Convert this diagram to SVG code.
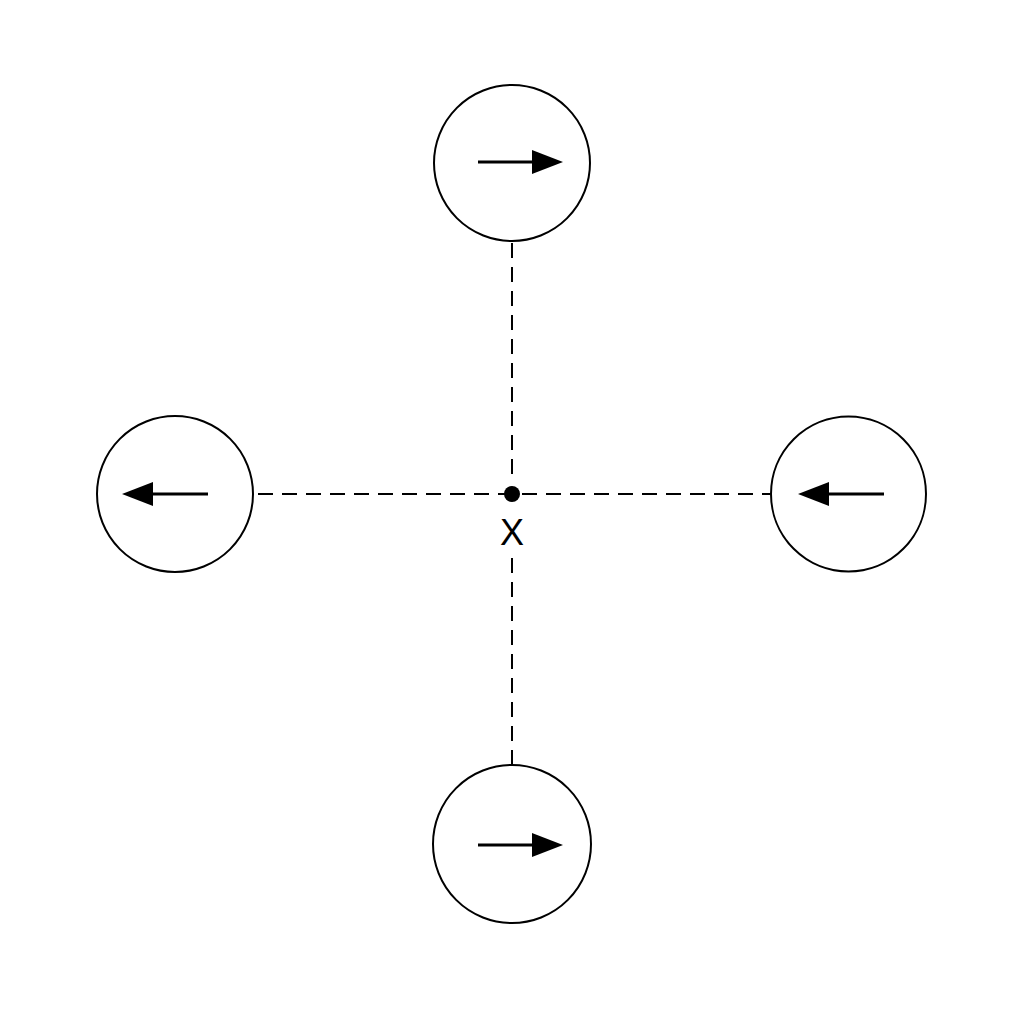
<svg xmlns="http://www.w3.org/2000/svg" width="1024" height="1024" viewBox="0 0 1024 1024">
<style>
.node{fill:#fff;stroke:#000;stroke-width:2}
.dash{stroke:#000;stroke-width:2;stroke-dasharray:15 9;fill:none}
.arr{stroke:#000;stroke-width:3;fill:none;marker-end:url(#ah)}
.lbl{font-family:"Liberation Sans",Arial,sans-serif;font-size:36px;fill:#000;text-anchor:middle}
</style>
<defs>
<marker id="ah" viewBox="0 0 31 24" markerWidth="31" markerHeight="24" refX="8" refY="12" orient="auto" markerUnits="userSpaceOnUse">
<path d="M0,0 L31,12 L0,24 z" fill="#000"/>
</marker>
</defs>
<rect width="1024" height="1024" fill="#fff"/>
<g id="connectors">
<line class="dash" x1="258" y1="494" x2="770" y2="494"/>
<line class="dash" x1="512" y1="243" x2="512" y2="480"/>
<line class="dash" x1="512" y1="765" x2="512" y2="555" />
</g>
<g id="node-top">
<circle class="node" cx="512" cy="163" r="78"/>
<line class="arr" x1="478" y1="162" x2="540" y2="162"/>
</g>
<g id="node-left">
<circle class="node" cx="175" cy="494" r="78"/>
<line class="arr" x1="208" y1="494" x2="145" y2="494"/>
</g>
<g id="node-right">
<circle class="node" cx="848.5" cy="494" r="77.5"/>
<line class="arr" x1="884" y1="494" x2="821" y2="494"/>
</g>
<g id="node-bottom">
<circle class="node" cx="512" cy="844" r="79"/>
<line class="arr" x1="478" y1="845" x2="540" y2="845"/>
</g>
<g id="center">
<circle cx="512" cy="494" r="8" fill="#000"/>
<text class="lbl" x="512" y="545">X</text>
</g>
</svg>
